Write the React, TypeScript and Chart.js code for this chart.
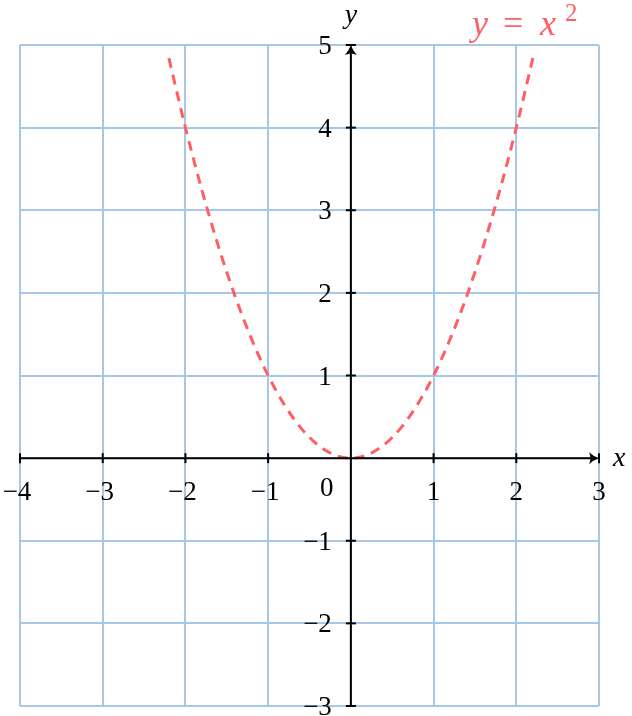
import React, { useEffect, useRef } from "react";
import { Chart, registerables } from "chart.js";

Chart.register(...registerables);

const curveX = [-2.2, -2.0, -1.8, -1.6, -1.4, -1.2, -1.0, -0.8, -0.6, -0.4, -0.2, 0, 0.2, 0.4, 0.6, 0.8, 1.0, 1.2, 1.4, 1.6, 1.8, 2.0, 2.2];
const curveY = [4.84, 4.0, 3.24, 2.56, 1.96, 1.44, 1.0, 0.64, 0.36, 0.16, 0.04, 0, 0.04, 0.16, 0.36, 0.64, 1.0, 1.44, 1.96, 2.56, 3.24, 4.0, 4.84];
const xTicks = [-4, -3, -2, -1, 1, 2, 3];
const yTicks = [-3, -2, -1, 1, 2, 3, 4, 5];
const xRange = [-4, 3];
const yRange = [-3, 5];

const FONT = "Liberation Serif";
const RED = "rgb(255,95,100)";

function fmt(v: number) {
  return v < 0 ? "\u2212" + Math.abs(v) : String(v);
}

const axesPlugin = {
  id: "axesThroughOrigin",
  afterDraw(chart: any) {
    const ctx = chart.ctx;
    const xs = chart.scales.x;
    const ys = chart.scales.y;
    const x0 = xs.getPixelForValue(0);
    const y0 = ys.getPixelForValue(0);
    const xL = xs.getPixelForValue(xRange[0]);
    const xR = xs.getPixelForValue(xRange[1]);
    const yB = ys.getPixelForValue(yRange[0]);
    const yT = ys.getPixelForValue(yRange[1]);
    ctx.save();
    ctx.strokeStyle = "#000";
    ctx.fillStyle = "#000";
    ctx.lineWidth = 2;
    ctx.beginPath();
    ctx.moveTo(xL, y0);
    ctx.lineTo(xR - 3, y0);
    ctx.stroke();
    ctx.beginPath();
    ctx.moveTo(x0, yB);
    ctx.lineTo(x0, yT + 3);
    ctx.stroke();
    const arrow = (tx: number, ty: number, dir: "r" | "u") => {
      ctx.beginPath();
      if (dir === "r") {
        ctx.moveTo(tx, ty);
        ctx.quadraticCurveTo(tx - 5, ty - 1.5, tx - 10, ty - 6);
        ctx.quadraticCurveTo(tx - 7, ty, tx - 10, ty + 6);
        ctx.quadraticCurveTo(tx - 5, ty + 1.5, tx, ty);
      } else {
        ctx.moveTo(tx, ty);
        ctx.quadraticCurveTo(tx - 1.5, ty + 5, tx - 6, ty + 10);
        ctx.quadraticCurveTo(tx, ty + 7, tx + 6, ty + 10);
        ctx.quadraticCurveTo(tx + 1.5, ty + 5, tx, ty);
      }
      ctx.closePath();
      ctx.fill();
    };
    arrow(xR, y0, "r");
    arrow(x0, yT, "u");
    for (const v of xTicks) {
      const px = xs.getPixelForValue(v);
      ctx.beginPath();
      ctx.moveTo(px, y0 - 5);
      ctx.lineTo(px, y0 + 5);
      ctx.stroke();
    }
    for (const v of yTicks) {
      const py = ys.getPixelForValue(v);
      ctx.beginPath();
      ctx.moveTo(x0 - 5, py);
      ctx.lineTo(x0 + 5, py);
      ctx.stroke();
    }
    ctx.font = `27px "${FONT}"`;
    ctx.textBaseline = "alphabetic";
    ctx.textAlign = "center";
    for (const v of xTicks) {
      const px = xs.getPixelForValue(v);
      const s = fmt(v);
      ctx.fillText(s, v < 0 ? px - 3 : px, y0 + 42);
    }
    ctx.fillText("0", x0 - 24, y0 + 38);
    ctx.textAlign = "right";
    for (const v of yTicks) {
      const py = ys.getPixelForValue(v);
      ctx.fillText(fmt(v), x0 - 19, py + 9);
    }
    ctx.font = `italic 28px "${FONT}"`;
    ctx.textAlign = "left";
    ctx.fillText("x", xR + 14, y0 + 8);
    ctx.textAlign = "center";
    ctx.fillText("y", x0, yT - 22);
    // curve label  y = x^2
    ctx.fillStyle = RED;
    ctx.textAlign = "left";
    ctx.font = `italic 36px "${FONT}"`;
    ctx.fillText("y", 472, 35);
    ctx.font = `36px "${FONT}"`;
    ctx.fillText("=", 503, 35);
    ctx.font = `italic 36px "${FONT}"`;
    ctx.fillText("x", 540, 35);
    ctx.font = `25px "${FONT}"`;
    ctx.fillText("2", 565, 21);
    ctx.restore();
  },
};

export default function App() {
  const ref = useRef<HTMLCanvasElement>(null);
  useEffect(() => {
    document.body.style.margin = "0";
    const chart = new Chart(ref.current!, {
      type: "scatter",
      data: {
        datasets: [
          {
            data: curveX.map((x, i) => ({ x, y: curveY[i] })),
            showLine: true,
            borderColor: RED,
            borderWidth: 3,
            borderDash: [10, 7],
            pointRadius: 0,
            cubicInterpolationMode: "monotone",
            fill: false,
          },
        ],
      },
      options: {
        animation: false,
        responsive: false,
        devicePixelRatio: 1,
        layout: { padding: { left: 20, right: 33, top: 45, bottom: 10 } },
        plugins: { legend: { display: false }, tooltip: { enabled: false } },
        scales: {
          x: {
            type: "linear",
            min: xRange[0],
            max: xRange[1],
            ticks: { display: false, stepSize: 1 },
            grid: { color: "rgb(165,200,232)", lineWidth: 2, drawTicks: false },
            border: { display: false },
          },
          y: {
            type: "linear",
            min: yRange[0],
            max: yRange[1],
            ticks: { display: false, stepSize: 1 },
            grid: { color: "rgb(165,200,232)", lineWidth: 2, drawTicks: false },
            border: { display: false },
          },
        },
      },
      plugins: [axesPlugin],
    } as any);
    return () => chart.destroy();
  }, []);
  return (
    <div style={{ position: "absolute", left: 0, top: 0, width: 632, height: 716 }}>
      <canvas ref={ref} width={632} height={716} />
    </div>
  );
}
